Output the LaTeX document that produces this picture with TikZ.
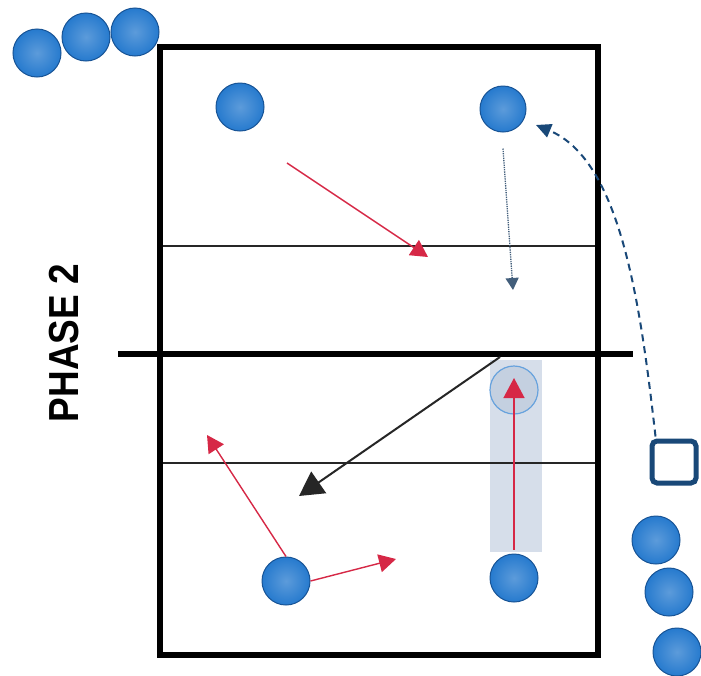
\documentclass[tikz,border=0pt]{standalone}
\usepackage{fontspec}
\setmainfont{Liberation Sans}
\usetikzlibrary{arrows.meta,shapes.geometric}
\definecolor{ballblue}{RGB}{38,122,206}
\definecolor{balledge}{RGB}{24,84,150}
\definecolor{navy}{RGB}{25,72,120}
\definecolor{runred}{RGB}{214,40,70}
\definecolor{zonegrey}{RGB}{214,222,234}
\definecolor{spotfill}{RGB}{196,208,224}
\tikzset{
  player/.style={circle,minimum size=#1,inner sep=0pt,draw=balledge,line width=1pt,
    inner color=ballblue!75!white,outer color=ballblue},
  player/.default=48pt,
  courtline/.style={line width=5.5pt,black},
  attackline/.style={line width=2.4pt,black!85},
  redrun/.style={runred,line width=1.4pt,-{Triangle[length=17pt,width=18pt]}},
  ballpath/.style={black!85,line width=2pt,-{Triangle[length=24pt,width=26pt]}},
}
\begin{document}
\begin{tikzpicture}[x=1pt,y=-1pt]
\useasboundingbox (0,0) rectangle (701,675);
\fill[white] (0,0) rectangle (701,675);

% highlighted lane of the setter
\fill[zonegrey] (490,360) rectangle (542,552);

% court outline, attack lines and net
\draw[attackline] (163,246) -- (595,246);
\draw[attackline] (163,463) -- (595,463);
\draw[courtline] (160,47) rectangle (598,655);
\draw[courtline] (118,354) -- (633,354);

% label
\node[rotate=90,font=\bfseries,anchor=center] (lbl) at (64,343)
  {\fontsize{42}{42}\selectfont\scalebox{0.88}[1]{PHASE 2}};

% players waiting outside the court
\node[player] (w1) at (37,53) {};
\node[player] (w2) at (86,37) {};
\node[player] (w3) at (135,32) {};
\node[player] (s1) at (656,540) {};
\node[player] (s2) at (669,592) {};
\node[player] (s3) at (677,652) {};

% players on court
\node[player] (p1) at (240,107) {};
\node[player=46pt] (p2) at (503,109) {};
\node[player] (p3) at (286,581) {};
\node[player] (p4) at (514,578) {};

% target spot of the setter
\node[circle,minimum size=48pt,inner sep=0pt,draw=ballblue!70,line width=1.2pt,fill=spotfill] (tgt) at (514,390) {};

% coach / ball feeder
\node[draw=navy,line width=5pt,rounded corners=5pt,minimum width=44pt,minimum height=42pt,fill=white] (coach) at (674,462) {};

% runs and ball paths
\coordinate (r1s) at (287,163);
\coordinate (r1e) at (428,257);
\draw[redrun] (r1s) -- (r1e);

\coordinate (d1e) at (513,290);
\draw[navy!60!gray,line width=1.3pt,densely dotted,-{Triangle[length=12pt,width=13pt]}] (p2.south) ++(0,16) coordinate (d1s) (d1s) -- (d1e);

\draw[runred,line width=1.4pt,-{Triangle[length=20pt,width=21pt]}] (p4.north) ++(0,-4) coordinate (r2s) (r2s) -- (514,378) coordinate (r2e);

\coordinate (b1s) at (500,357);
\coordinate (b1e) at (299,496);
\draw[ballpath] (b1s) -- (b1e);

\coordinate (r3e) at (207,435);
\draw[redrun] (p3.north) -- (r3e);
\coordinate (r4e) at (396,559);
\draw[redrun] (p3.east) -- (r4e);

\draw[navy,line width=2pt,dashed,dash pattern=on 7pt off 5pt,-{Triangle[length=15pt,width=14pt]}]
  (coach.north west) ++(6,-2) coordinate (cs) (cs) .. controls (640,300) and (620,160) .. (536,125) coordinate (ce);
\end{tikzpicture}
\end{document}
